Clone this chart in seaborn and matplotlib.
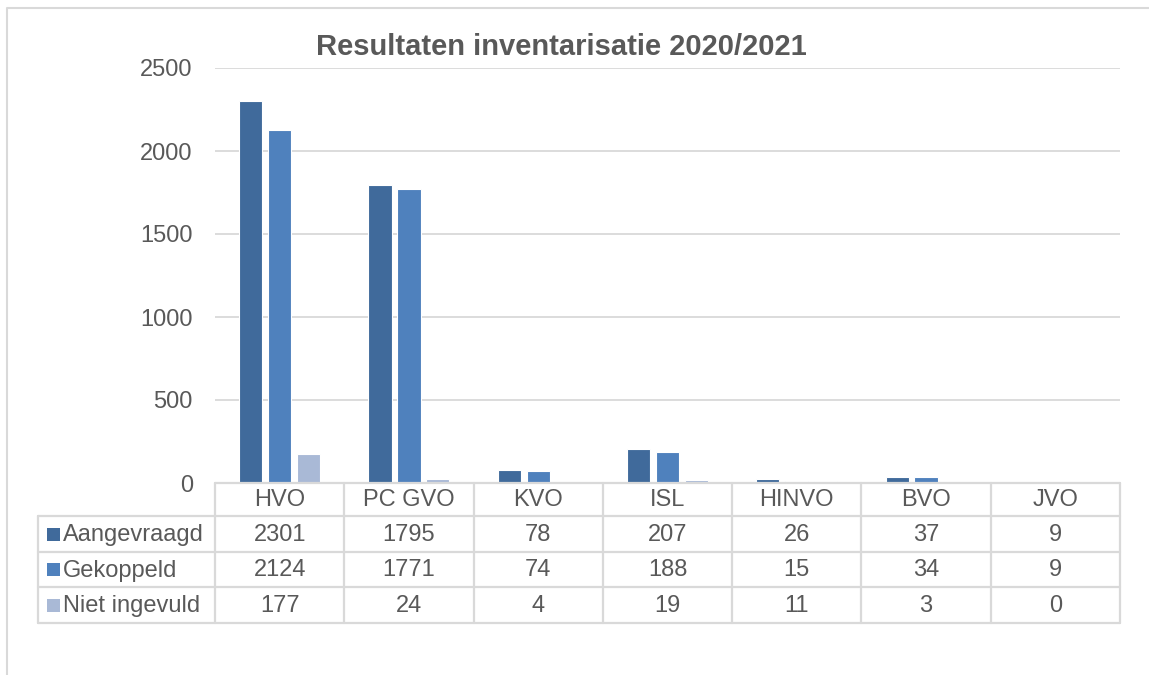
import numpy as np
import pandas as pd
import matplotlib
matplotlib.use("Agg")
import matplotlib.pyplot as plt
import seaborn as sns

# ---------------------------------------------------------------------------
# data
# ---------------------------------------------------------------------------
categories = ["HVO", "PC GVO", "KVO", "ISL", "HINVO", "BVO", "JVO"]
series_names = ["Aangevraagd", "Gekoppeld", "Niet ingevuld"]
aangevraagd = [2301, 1795, 78, 207, 26, 37, 9]
gekoppeld = [2124, 1771, 74, 188, 15, 34, 9]
niet_ingevuld = [177, 24, 4, 19, 11, 3, 0]
y_ticks = [0, 500, 1000, 1500, 2000, 2500]
title = "Resultaten inventarisatie 2020/2021"

colors = ["#406A9B", "#4F81BD", "#A9B9D6"]
text_color = "#595959"
line_color = "#D9D9D9"

df = pd.DataFrame({
    "Categorie": categories * 3,
    "Serie": [s for s in series_names for _ in categories],
    "Waarde": aangevraagd + gekoppeld + niet_ingevuld,
})

sns.set_theme(style="white")
plt.rcParams["font.family"] = ["Liberation Sans", "DejaVu Sans"]

W, H = 1149, 675
fig = plt.figure(figsize=(W / 100, H / 100), dpi=100)

# plot area in pixel coords
px_left, px_right, px_top, px_bottom = 215, 1120, 68, 483
ax = fig.add_axes([px_left / W, 1 - px_bottom / H,
                   (px_right - px_left) / W, (px_bottom - px_top) / H])

sns.barplot(
    data=df, x="Categorie", y="Waarde", hue="Serie",
    order=categories, hue_order=series_names, palette=colors,
    saturation=1, width=0.672, gap=0.2, edgecolor="white", linewidth=0.8,
    legend=False, ax=ax, zorder=3,
)
ax.set_xlim(-0.5, len(categories) - 0.5)
ax.set_ylim(0, 2500)
ax.set_yticks(y_ticks)
ax.tick_params(axis="y", length=0, pad=16, labelsize=17, labelcolor=text_color)
ax.set_xticks([])
ax.set_xlabel("")
ax.set_ylabel("")
for y in y_ticks[1:]:
    ax.axhline(y, color=line_color, lw=1.3, zorder=0)
for s in ax.spines.values():
    s.set_visible(False)
ax.patch.set_alpha(0)

# overlay in pixel coords: title and border
ov = fig.add_axes([0, 0, 1, 1], zorder=-1)
ov.set_xlim(0, W)
ov.set_ylim(H, 0)
ov.axis("off")

ov.plot([7, 7, W + 5], [H + 5, 8, 8], color=line_color, lw=1.5)
ov.text(561, 47, title, ha="center", va="center", fontsize=21,
        fontweight="bold", color=text_color)

# data table under the plot
col_edges = np.linspace(px_left, px_right, len(categories) + 1)
row_edges = [483, 516, 552, 587, 623]
leg_left = 38
lw_tab = 1.6

ov2 = fig.add_axes([0, 0, 1, 1], zorder=5)
ov2.set_xlim(0, W)
ov2.set_ylim(H, 0)
ov2.axis("off")

ov2.plot([px_left, px_right], [row_edges[0]] * 2, color=line_color, lw=lw_tab)
for y in row_edges[1:]:
    ov2.plot([leg_left, px_right], [y, y], color=line_color, lw=lw_tab)
for x in col_edges:
    ov2.plot([x, x], [row_edges[0], row_edges[-1]], color=line_color, lw=lw_tab)
ov2.plot([leg_left, leg_left], [row_edges[1], row_edges[-1]], color=line_color, lw=lw_tab)

centers = (col_edges[:-1] + col_edges[1:]) / 2
hdr_y = (row_edges[0] + row_edges[1]) / 2
for cx, cat in zip(centers, categories):
    ov2.text(cx, hdr_y + 1, cat, ha="center", va="center", fontsize=17, color=text_color)

for r, (name, vals, col) in enumerate(zip(series_names,
                                          [aangevraagd, gekoppeld, niet_ingevuld],
                                          colors)):
    yc = (row_edges[r + 1] + row_edges[r + 2]) / 2
    ov2.add_patch(plt.Rectangle((47, yc - 6.5), 13, 13, color=col, lw=0))
    ov2.text(63, yc + 1, name, ha="left", va="center", fontsize=17, color=text_color)
    for cx, v in zip(centers, vals):
        ov2.text(cx, yc + 1, str(v), ha="center", va="center", fontsize=17, color=text_color)

fig.savefig("out.png", dpi=100)
